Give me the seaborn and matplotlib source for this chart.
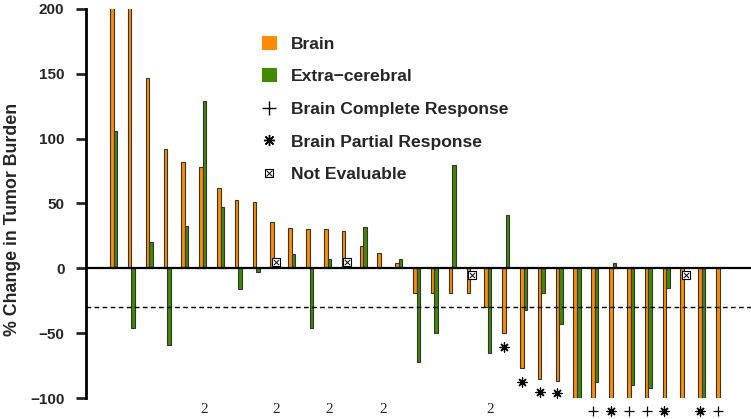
import numpy as np
import pandas as pd
import matplotlib
matplotlib.use("Agg")
import matplotlib.pyplot as plt
from matplotlib.patches import Patch
from matplotlib.lines import Line2D
from matplotlib.legend_handler import HandlerTuple
import seaborn as sns

# data (patients ordered by brain response)
patients = [str(i) for i in range(1, 36)]
brain = [250, 250, 147, 92, 82, 78, 62, 53, 51, 36, 31, 30, 30, 28.5, 17, 12, 4,
         -19, -19, -19, -19, -30, -50, -77, -85, -87,
         -100, -100, -100, -100, -100, -100, -100, -100, -100]
extra = [106, -46, 20, -59, 33, 129, 47, -16, -3, np.nan, 11, -46, 7, np.nan, 32, np.nan, 7,
         -72, -50, 80, np.nan, -65, 41, -32, -19, -43,
         -100, -88, 4, -90, -92, -15, np.nan, -100, np.nan]

# annotations (1-based patient numbers)
complete_resp = [28, 30, 31, 35]
partial_resp = [23, 24, 25, 26, 29, 32, 34]
partial_resp_y = [-61, -88, -95, -96, -110, -110, -110]
not_evaluable = [10, 14, 21, 33]
not_evaluable_y = [5, 5, -5, -5]
two_lesions = [6, 10, 13, 16, 22]

orange = "#FF8C00"
green = "#3F8A00"

df = pd.DataFrame({
    "patient": patients * 2,
    "value": brain + extra,
    "site": ["Brain"] * len(patients) + ["Extra-cerebral"] * len(patients),
}).dropna()

sns.set_theme(style="white")
plt.rcParams["font.family"] = ["Liberation Sans", "DejaVu Sans"]

fig = plt.figure(figsize=(7.51, 4.19), dpi=100)
ax = fig.add_axes([86 / 751, 1 - 398 / 419, 665 / 751, 389 / 419])

sns.barplot(
    data=df, x="patient", y="value", hue="site", order=patients,
    hue_order=["Brain", "Extra-cerebral"], palette=[orange, green],
    width=0.4, gap=0, errorbar=None, edgecolor="#333333", linewidth=0.8,
    saturation=1, ax=ax, legend=False,
)

off = 0.1
ax.axhline(0, color="black", lw=1.6, zorder=3)
ax.axhline(-30, color="black", lw=1, ls=(0, (3.4, 2.4)), zorder=3)

# response markers
ax.scatter([p - 1 - off for p in complete_resp], [-110] * len(complete_resp),
           marker="+", s=60, color="black", linewidths=0.9, clip_on=False, zorder=4)
ax.scatter([p - 1 - off for p in partial_resp], partial_resp_y,
           marker=(8, 2, 0), s=42, color="black", linewidths=0.9, clip_on=False, zorder=4)
ax.scatter([p - 1 + off for p in not_evaluable], not_evaluable_y,
           marker="s", s=26, facecolor="white", edgecolor="black", linewidths=0.8, zorder=4)
ax.scatter([p - 1 + off for p in not_evaluable], not_evaluable_y,
           marker="x", s=14, color="black", linewidths=0.7, zorder=5)

for p in two_lesions:
    ax.text(p - 1 + off, -108.5, "2", family="Liberation Serif", fontsize=11,
            ha="center", va="center", clip_on=False)

ax.set_xlim(-1.55, 35.76)
ax.set_ylim(-100, 200)
ax.set_yticks([-100, -50, 0, 50, 100, 150, 200])
ax.set_yticklabels(["\u2212100", "\u221250", "0", "50", "100", "150", "200"],
                   fontweight="bold", fontsize=11)
ax.set_xticks([])
ax.set_xlabel("")
ax.set_ylabel("% Change in Tumor Burden", fontsize=12.8, fontweight="bold")
ax.yaxis.set_label_coords((21 - 86) / 665, (398 - 219) / 389)
ax.tick_params(axis="y", direction="out", length=7.5, width=2, left=True, pad=8)
for s in ["top", "right", "bottom"]:
    ax.spines[s].set_visible(False)
ax.spines["left"].set_linewidth(2)
ax.spines["left"].set_color("black")

handles = [
    Patch(facecolor=orange, edgecolor="none"),
    Patch(facecolor=green, edgecolor="none"),
    Line2D([], [], marker="+", ls="none", color="black", markersize=10, markeredgewidth=1),
    Line2D([], [], marker=(8, 2, 0), ls="none", color="black", markersize=8, markeredgewidth=1),
    (Line2D([], [], marker="s", ls="none", markerfacecolor="white", markeredgecolor="black",
            markersize=6, markeredgewidth=0.8),
     Line2D([], [], marker="x", ls="none", color="black", markersize=4, markeredgewidth=0.7)),
]
labels = ["Brain", "Extra\u2212cerebral", "Brain Complete Response",
          "Brain Partial Response", "Not Evaluable"]
ax.legend(handles, labels, loc="upper left", bbox_to_anchor=(246 / 751, 1 - 20 / 419),
          bbox_transform=fig.transFigure, frameon=False,
          prop={"weight": "bold", "size": 12.6}, handlelength=0.85, handleheight=0.85,
          handletextpad=0.8, labelspacing=0.95,
          handler_map={tuple: HandlerTuple(ndivide=1, pad=0)})

fig.savefig("out.png", dpi=100)
